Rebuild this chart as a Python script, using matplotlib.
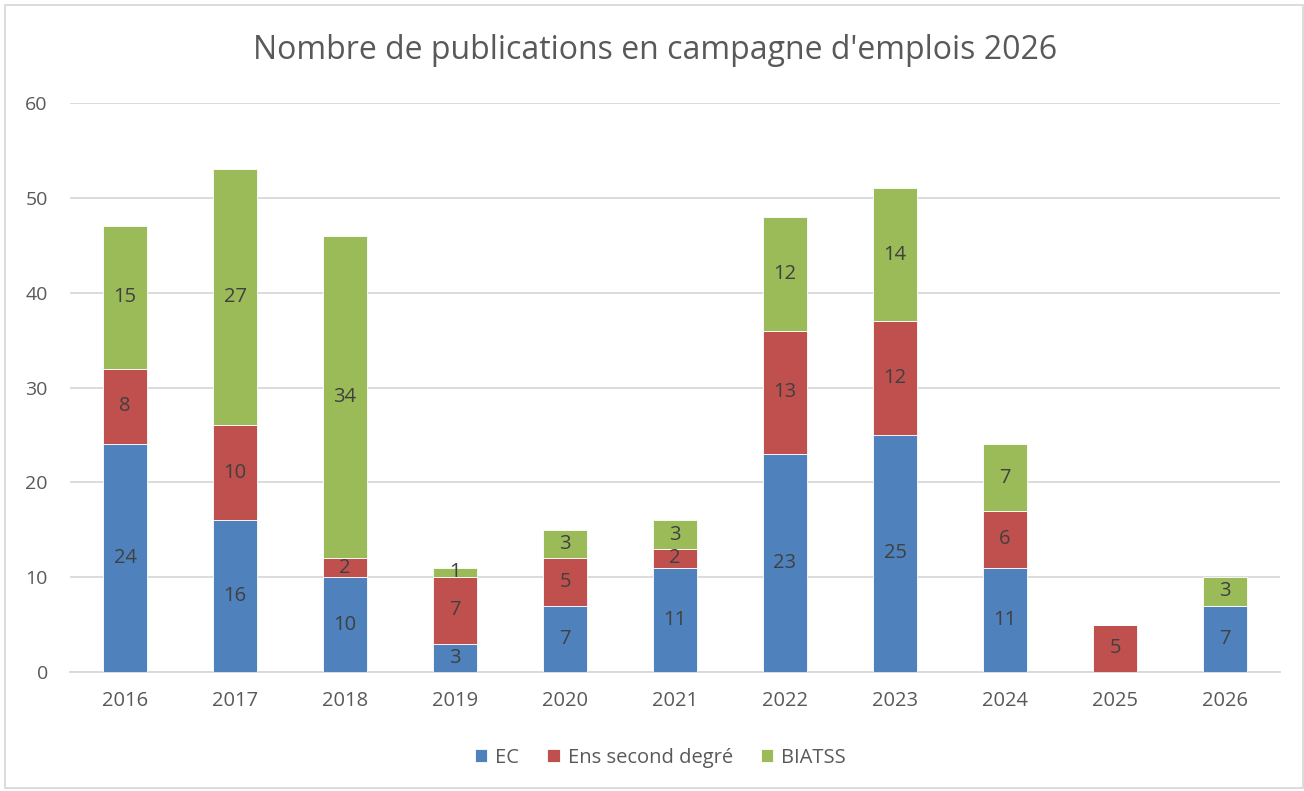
import matplotlib.pyplot as plt
from matplotlib.patches import Rectangle
import numpy as np

plt.rcParams['font.family'] = ['Open Sans', 'DejaVu Sans']

years = ['2016', '2017', '2018', '2019', '2020', '2021', '2022', '2023', '2024', '2025', '2026']
ec = [24, 16, 10, 3, 7, 11, 23, 25, 11, 0, 7]
ens = [8, 10, 2, 7, 5, 2, 13, 12, 6, 5, 0]
biatss = [15, 27, 34, 1, 3, 3, 12, 14, 7, 0, 3]

series = [('EC', ec, '#4F81BD'),
          ('Ens second degré', ens, '#C0504D'),
          ('BIATSS', biatss, '#9BBB59')]

fig = plt.figure(figsize=(13.04, 7.91), dpi=100)
ax = fig.add_axes([0.0537, 0.1504, 0.9279, 0.7194])

x = np.arange(len(years))
bottom = np.zeros(len(years))
for name, vals, col in series:
    vals = np.array(vals, dtype=float)
    ax.bar(x, vals, 0.4, bottom=bottom, color=col, label=name,
           edgecolor='white', linewidth=0.6, zorder=3)
    for xi, b, v in zip(x, bottom, vals):
        if v > 0:
            ax.text(xi, b + v / 2, f'{int(v)}', ha='center', va='center',
                    fontsize=14.5, color='#404040', zorder=4)
    bottom += vals

ax.set_xlim(-0.5, len(years) - 0.5)
ax.set_ylim(0, 60)
ax.set_yticks(range(0, 61, 10))
ax.set_xticks(x)
ax.set_xticklabels(years)
ax.grid(axis='y', color='#D9D9D9', linewidth=1.3, zorder=0)
for s in ['top', 'right', 'left']:
    ax.spines[s].set_visible(False)
ax.spines['bottom'].set_color('#D9D9D9')
ax.spines['bottom'].set_linewidth(1.3)
ax.tick_params(axis='x', length=0, labelsize=14.5, labelcolor='#595959', pad=14)
ax.tick_params(axis='y', length=0, labelsize=14, labelcolor='#595959', pad=16)

fig.text(0.502, 0.936, "Nombre de publications en campagne d'emplois 2026",
         ha='center', va='center', fontsize=23, color='#595959')

ax.legend(loc='center', bbox_to_anchor=(0.488, -0.151), ncol=3, frameon=False,
          fontsize=14.5, handlelength=0.6, handleheight=0.6, columnspacing=1.4,
          handletextpad=0.4, labelcolor='#595959')

fig.patches.append(Rectangle((0.004, 0.004), 0.995, 0.99, transform=fig.transFigure,
                             fill=False, edgecolor='#D9D9D9', linewidth=1.3))

fig.savefig('out.png', dpi=100)
